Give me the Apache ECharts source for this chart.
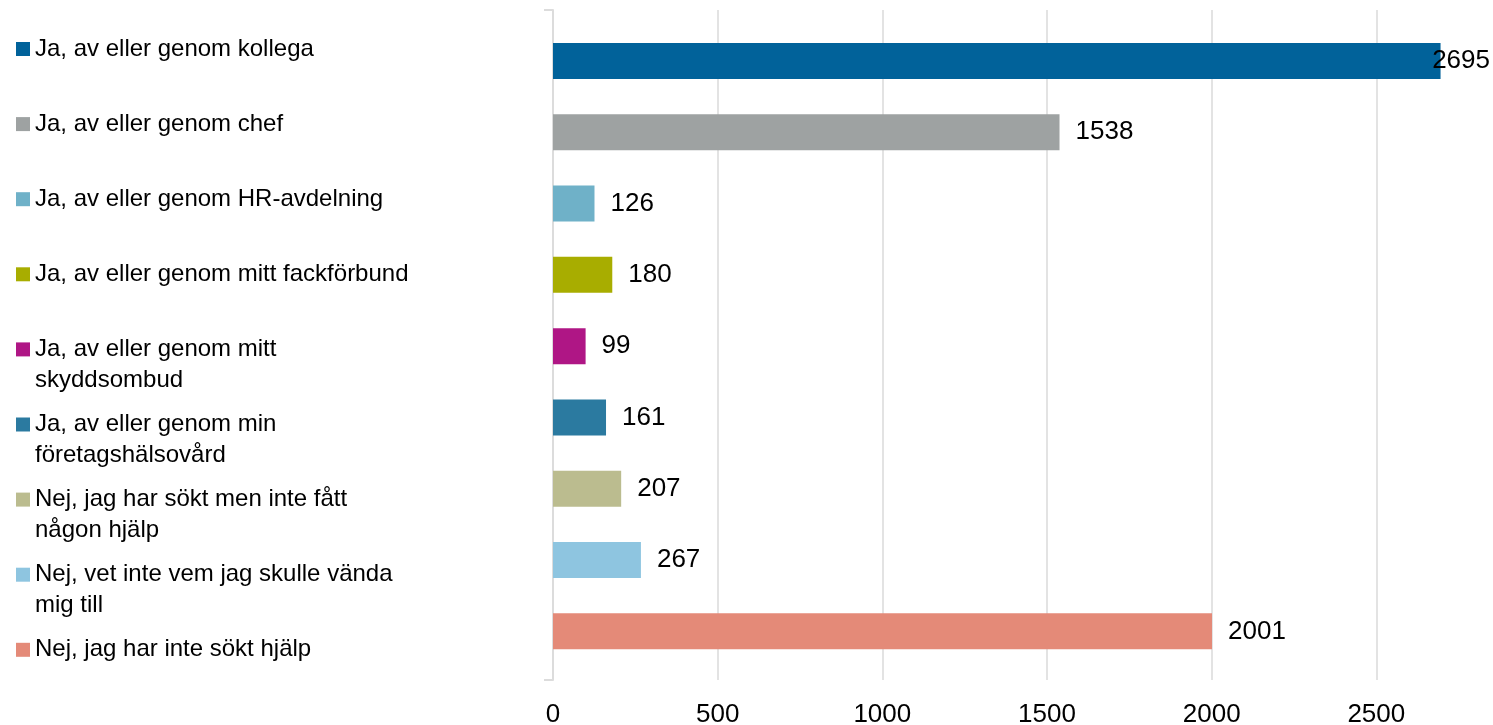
<!DOCTYPE html>
<html>
<head>
<meta charset="utf-8">
<script src="https://cdn.jsdelivr.net/npm/echarts@6/dist/echarts.min.js"></script>
<style>
  html, body { margin: 0; padding: 0; background: #fff; }
  #echarts { width: 1493px; height: 725px; }
</style>
</head>
<body>
<div id="echarts"></div>
<script>
// kategorier (uppifrån och ned)
var categories = [
    'Ja, av eller genom kollega',
    'Ja, av eller genom chef',
    'Ja, av eller genom HR-avdelning',
    'Ja, av eller genom mitt fackförbund',
    'Ja, av eller genom mitt skyddsombud',
    'Ja, av eller genom min företagshälsovård',
    'Nej, jag har sökt men inte fått någon hjälp',
    'Nej, vet inte vem jag skulle vända mig till',
    'Nej, jag har inte sökt hjälp'
];
// legendtext med radbrytningar
var legendLabels = [
    'Ja, av eller genom kollega',
    'Ja, av eller genom chef',
    'Ja, av eller genom HR-avdelning',
    'Ja, av eller genom mitt fackförbund',
    'Ja, av eller genom mitt\nskyddsombud',
    'Ja, av eller genom min\nföretagshälsovård',
    'Nej, jag har sökt men inte fått\nnågon hjälp',
    'Nej, vet inte vem jag skulle vända\nmig till',
    'Nej, jag har inte sökt hjälp'
];
var values = [2695, 1538, 126, 180, 99, 161, 207, 267, 2001];
var colors = ['#01629a', '#9ea2a2', '#6fb1c8', '#a8ad00', '#af1685',
              '#2b7aa0', '#bbbc8f', '#8ec5e0', '#e48a78'];
var xTicks = [0, 500, 1000, 1500, 2000, 2500];

window.onload = function () {
    var mychart = echarts.init(document.getElementById('echarts'));
    var font = 'Liberation Sans, Arial, sans-serif';
    var lineH = 31;

    //tomma rader först så att ikonen hamnar vid första textraden
    var labelMap = {};
    categories.forEach(function (c, i) {
        var n = legendLabels[i].split('\n').length;
        labelMap[c] = new Array(n).join('\n') + legendLabels[i];
    });

    //en serie per kategori, staplade så att de hamnar på sin egen rad
    var series = categories.map(function (name, i) {
        var data = categories.map(function (c, j) { return j === i ? values[i] : '-'; });
        return {
            type: 'bar',
            name: name,
            xAxisIndex: 1,
            yAxisIndex: 1,
            stack: 'all',
            barWidth: 36,
            data: data,
            itemStyle: { color: colors[i] },
            label: {
                show: true,
                position: 'right',
                distance: 16,
                fontFamily: font,
                fontSize: 26,
                color: '#000'
            },
            labelLayout: function (params) {
                var r = params.labelRect;
                var w = mychart.getWidth() - 3;
                if (r.x + r.width > w) {
                    return { dx: w - (r.x + r.width) };
                }
                return {};
            }
        };
    });

    //en legend per post så att första raden hamnar i jämn takt
    var legends = categories.map(function (name, i) {
        var n = legendLabels[i].split('\n').length;
        var center = 49 + 75.1 * i;
        return {
            left: 16,
            top: center - (2 * n - 1) * lineH / 2,
            padding: 0,
            orient: 'vertical',
            icon: 'rect',
            itemWidth: 14,
            itemHeight: 14,
            selectedMode: false,
            data: [name],
            formatter: function (nm) { return labelMap[nm]; },
            textStyle: {
                fontFamily: font,
                fontSize: 24,
                color: '#000',
                lineHeight: lineH
            }
        };
    });

    var option = {
        animation: false,
        backgroundColor: '#fff',
        legend: legends,
        grid: [
            { left: 553, right: -48, top: 10, bottom: 45, outerBoundsMode: 'none', containLabel: false },
            { left: 553, right: -48, top: 25.3, bottom: 58, outerBoundsMode: 'none', containLabel: false }
        ],
        xAxis: [{
            gridIndex: 0,
            type: 'value',
            min: xTicks[0],
            max: 3000,
            interval: xTicks[1] - xTicks[0],
            axisLine: { show: false },
            axisTick: { show: false },
            splitLine: { show: true, lineStyle: { color: '#e3e3e3', width: 2 } },
            axisLabel: {
                fontFamily: font, fontSize: 26, color: '#000', margin: 22,
                formatter: function (v) { return String(v); }
            }
        }, {
            gridIndex: 1,
            type: 'value',
            min: xTicks[0],
            max: 3000,
            show: false
        }],
        yAxis: [{
            gridIndex: 0,
            type: 'category',
            data: [''],
            axisLine: { show: true, lineStyle: { color: '#dcdcdc', width: 2 } },
            axisTick: { show: true, length: 9, lineStyle: { color: '#dcdcdc', width: 2 } },
            axisLabel: { show: false },
            splitLine: { show: false }
        }, {
            gridIndex: 1,
            type: 'category',
            inverse: true,
            data: categories,
            show: false
        }],
        series: series
    };

    mychart.setOption(option);
};
</script>
</body>
</html>
